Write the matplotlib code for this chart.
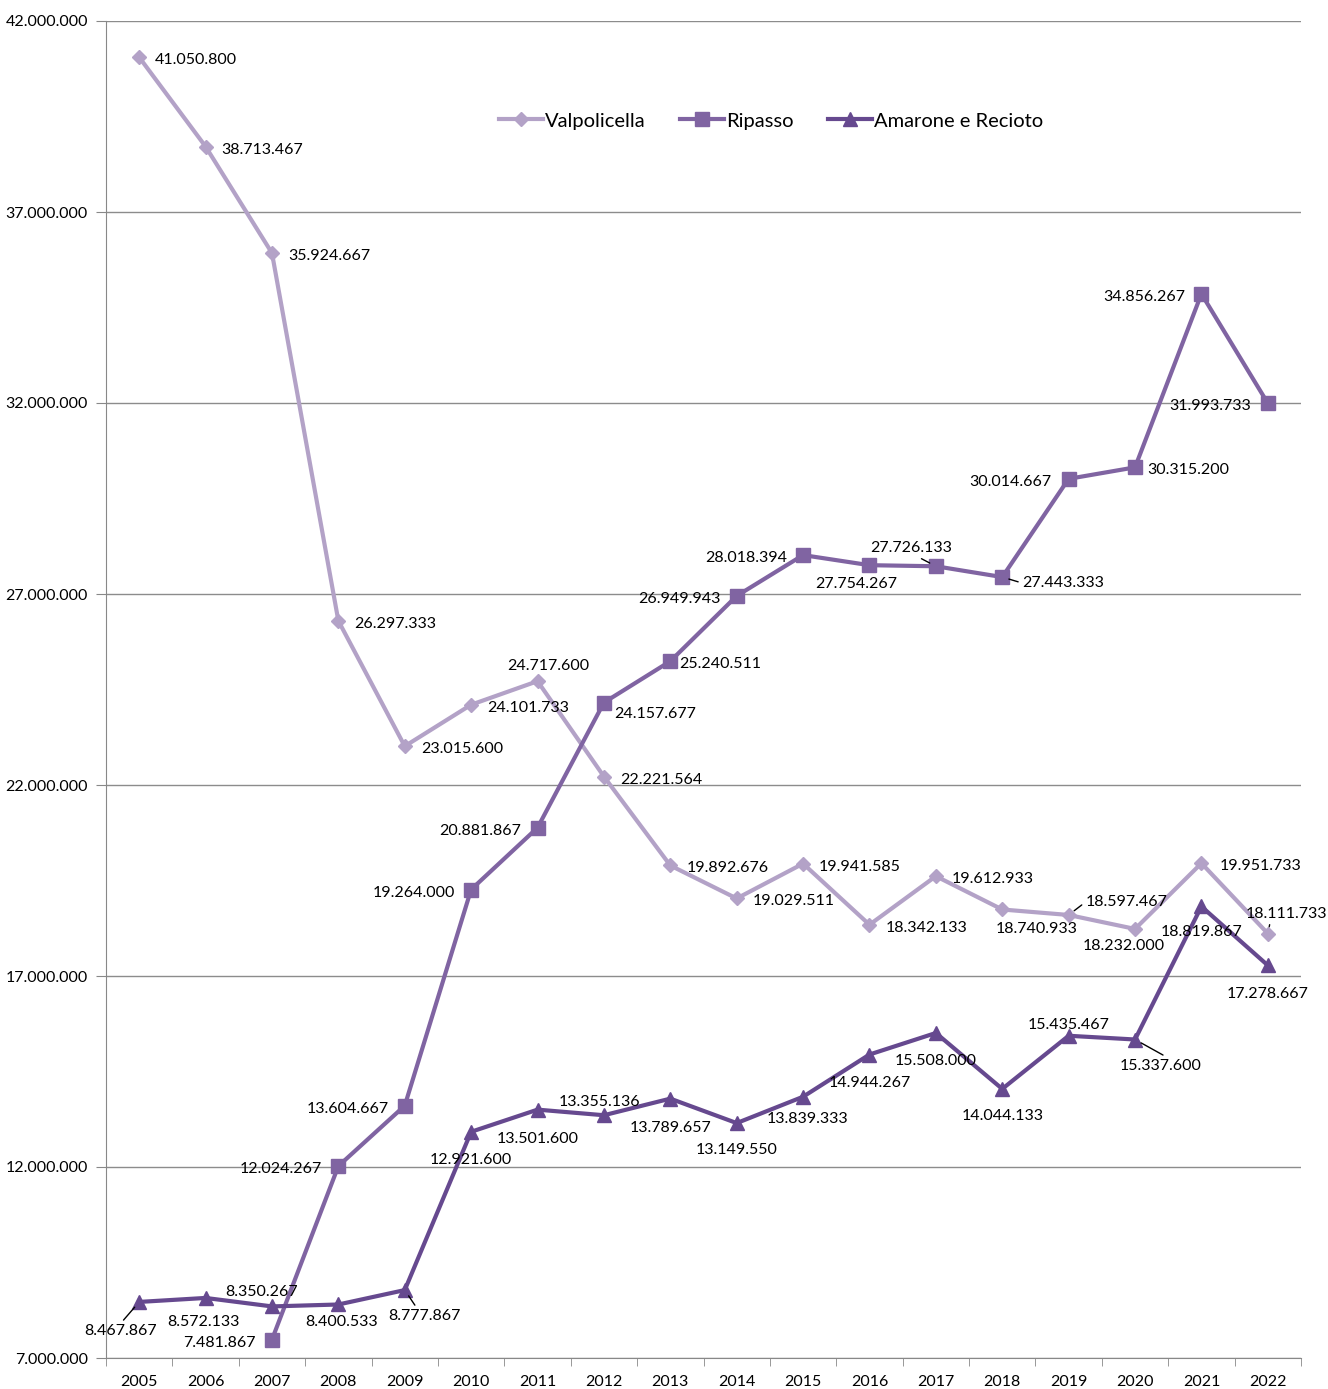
import numpy as np
import matplotlib.pyplot as plt

years = [str(y) for y in range(2005, 2023)]

valpolicella = [41050800, 38713467, 35924667, 26297333, 23015600, 24101733,
                24717600, 22221564, 19892676, 19029511, 19941585, 18342133,
                19612933, 18740933, 18597467, 18232000, 19951733, 18111733]
ripasso = [np.nan, np.nan, 7481867, 12024267, 13604667, 19264000, 20881867,
           24157677, 25240511, 26949943, 28018394, 27754267, 27726133,
           27443333, 30014667, 30315200, 34856267, 31993733]
amarone = [8467867, 8572133, 8350267, 8400533, 8777867, 12921600, 13501600,
           13355136, 13789657, 13149550, 13839333, 14944267, 15508000,
           14044133, 15435467, 15337600, 18819867, 17278667]

# label placement: (dx, dy down in pixels, ha, leader relpos or None)
R = (16, 0, 'left', None)
L = (-16, 0, 'right', None)
valp_pos = [R, R, R, R, R, R, (11, -18, 'center', None), R, R, R, R, R, R,
            (34, 17, 'center', None), (17, -16, 'left', (0, 0.5)),
            (-11, 14, 'center', None), (18, 0, 'left', None),
            (19, -23, 'center', (0.3, 0))]
rip_pos = [None, None, L, L, L, L, L, (10, 8, 'left', None), (9, 0, 'left', None),
           L, L, (-13, 16, 'center', None), (-25, -21, 'center', (0.55, 0)),
           (20, 3, 'left', (0, 0.5)), (-17, 0, 'right', None), (12, 0, 'left', None),
           L, (-17, 0, 'right', None)]
am_pos = [(-19, 26, 'center', (0.5, 1)), (-2, 21, 'center', None),
          (-10, -17, 'center', None), (3, 15, 'center', None),
          (20, 23, 'center', (0.4, 1)), (0, 25, 'center', None),
          (0, 26, 'center', None), (-4, -16, 'center', None),
          (0, 26, 'center', None), (0, 24, 'center', None),
          (4, 19, 'center', None), (0, 25, 'center', None),
          (0, 25, 'center', None), (0, 24, 'center', None),
          (0, -14, 'center', None), (26, 23, 'center', (0.6, 1)),
          (0, 23, 'center', None), (0, 26, 'center', None)]

plt.rcParams['font.family'] = ['Lato', 'DejaVu Sans']

c_valp = '#B3A2C7'
c_rip = '#8064A2'
c_am = '#66498F'

fig = plt.figure(figsize=(13.28, 13.89), dpi=100)
ax = fig.add_axes([106/1328, 1 - 1358/1389, (1301-106)/1328, (1358-21)/1389])

x = np.arange(len(years))
ax.plot(x, valpolicella, color=c_valp, lw=3, marker='D', ms=7, label='Valpolicella')
ax.plot(x, ripasso, color=c_rip, lw=3, marker='s', ms=10, label='Ripasso')
ax.plot(x, amarone, color=c_am, lw=3, marker='^', ms=10, label='Amarone e Recioto')


def fmt(v):
    return '{:,}'.format(int(v)).replace(',', '.')


def label_series(vals, pos):
    for i, v in enumerate(vals):
        if pos[i] is None or np.isnan(v):
            continue
        dx, dy, ha, rel = pos[i]
        kw = {}
        if rel is not None:
            kw['arrowprops'] = dict(arrowstyle='-', color='black', lw=1,
                                    relpos=rel, shrinkA=1, shrinkB=5)
        # small downward nudge so the text sits where the reference has it
        ax.annotate(fmt(v), xy=(i, v), xytext=(dx, -dy - 3),
                    textcoords='offset pixels', ha=ha, va='center',
                    fontsize=11.5, color='black', **kw)


label_series(valpolicella, valp_pos)
label_series(ripasso, rip_pos)
label_series(amarone, am_pos)

ax.set_xlim(-0.5, len(years) - 0.5)
ax.set_ylim(7000000, 42000000)
yt = np.arange(7000000, 42000001, 5000000)
ax.set_yticks(yt)
ax.set_yticklabels([fmt(v) for v in yt], fontsize=11.5)
ax.set_xticks(x)
ax.set_xticklabels(years, fontsize=11.5)
ax.set_xticks(np.arange(-0.5, len(years), 1), minor=True)
ax.tick_params(axis='x', which='major', length=0, pad=12)
ax.tick_params(axis='x', which='minor', length=6, color='#888888')
ax.tick_params(axis='y', length=7, color='#888888', pad=6)

ax.grid(axis='y', color='#8c8c8c', lw=1)
ax.set_axisbelow(True)
for s in ['top', 'right']:
    ax.spines[s].set_visible(False)
ax.spines['left'].set_color('#888888')
ax.spines['bottom'].set_color('#888888')

ax.legend(loc='center', bbox_to_anchor=(771/1328, 1 - 121/1389),
          bbox_transform=fig.transFigure, ncol=3, frameon=False,
          fontsize=14.5, handlelength=2.2, handletextpad=0.1, columnspacing=1.7)

fig.savefig('out.png', dpi=100)
